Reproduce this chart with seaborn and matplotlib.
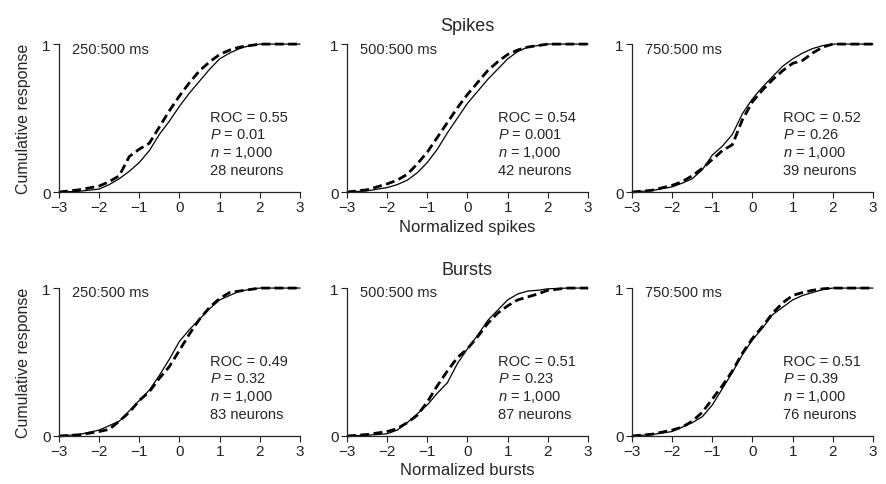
import numpy as np
import pandas as pd
import seaborn as sns
import matplotlib.pyplot as plt

sns.set_style('ticks')
plt.rcParams['font.family'] = ['Liberation Sans', 'DejaVu Sans']
plt.rcParams['mathtext.fontset'] = 'custom'
plt.rcParams['mathtext.rm'] = 'Liberation Sans'
plt.rcParams['mathtext.it'] = 'Liberation Sans:italic'

# common x grid (normalized response)
x_grid = [-3, -2.5, -2, -1.75, -1.5, -1.25, -1, -0.75, -0.5, -0.25, 0,
          0.25, 0.5, 0.75, 1, 1.25, 1.5, 1.75, 2, 2.5, 3]

# spikes
spk250_solid = [0, 0.005, 0.02, 0.05, 0.09, 0.14, 0.20, 0.28, 0.39, 0.48, 0.58,
                0.67, 0.75, 0.83, 0.90, 0.94, 0.97, 0.99, 1.0, 1.0, 1.0]
spk250_dash = [0, 0.015, 0.04, 0.07, 0.11, 0.24, 0.29, 0.33, 0.44, 0.55, 0.65,
               0.74, 0.82, 0.88, 0.93, 0.96, 0.98, 0.99, 1.0, 1.0, 1.0]
spk500_solid = [0, 0.008, 0.03, 0.05, 0.08, 0.13, 0.20, 0.29, 0.40, 0.50, 0.60,
                0.68, 0.76, 0.83, 0.90, 0.95, 0.98, 0.99, 1.0, 1.0, 1.0]
spk500_dash = [0, 0.015, 0.055, 0.08, 0.12, 0.19, 0.27, 0.37, 0.47, 0.57, 0.66,
               0.74, 0.82, 0.88, 0.93, 0.96, 0.98, 0.99, 1.0, 1.0, 1.0]
spk750_solid = [0, 0.01, 0.035, 0.06, 0.09, 0.15, 0.25, 0.31, 0.39, 0.53, 0.63,
                0.71, 0.78, 0.85, 0.90, 0.94, 0.97, 0.99, 1.0, 1.0, 1.0]
spk750_dash = [0, 0.012, 0.045, 0.07, 0.11, 0.16, 0.22, 0.28, 0.32, 0.49, 0.61,
               0.69, 0.76, 0.82, 0.87, 0.89, 0.94, 0.98, 1.0, 1.0, 1.0]

# bursts
bst250_solid = [0, 0.01, 0.04, 0.07, 0.10, 0.17, 0.24, 0.31, 0.41, 0.52, 0.64,
                0.72, 0.79, 0.86, 0.92, 0.95, 0.98, 0.99, 1.0, 1.0, 1.0]
bst250_dash = [0, 0.008, 0.03, 0.045, 0.10, 0.16, 0.24, 0.30, 0.39, 0.47, 0.58,
               0.69, 0.79, 0.87, 0.93, 0.97, 0.98, 0.99, 1.0, 1.0, 1.0]
bst500_solid = [0, 0.005, 0.015, 0.04, 0.09, 0.15, 0.21, 0.29, 0.36, 0.49, 0.59,
                0.68, 0.78, 0.85, 0.92, 0.96, 0.98, 0.985, 0.995, 1.0, 1.0]
bst500_dash = [0, 0.01, 0.03, 0.05, 0.09, 0.14, 0.23, 0.34, 0.44, 0.53, 0.59,
               0.67, 0.76, 0.83, 0.88, 0.92, 0.94, 0.96, 0.985, 1.0, 1.0]
bst750_solid = [0, 0.01, 0.03, 0.06, 0.09, 0.13, 0.21, 0.32, 0.43, 0.55, 0.65,
                0.73, 0.82, 0.87, 0.92, 0.95, 0.97, 0.99, 1.0, 1.0, 1.0]
bst750_dash = [0, 0.012, 0.04, 0.06, 0.10, 0.16, 0.25, 0.34, 0.44, 0.56, 0.66,
               0.74, 0.83, 0.90, 0.95, 0.97, 0.985, 0.995, 1.0, 1.0, 1.0]

windows = ['250:500 ms', '500:500 ms', '750:500 ms']
spk_stats = [('0.55', '0.01', '28'), ('0.54', '0.001', '42'), ('0.52', '0.26', '39')]
bst_stats = [('0.49', '0.32', '83'), ('0.51', '0.23', '87'), ('0.51', '0.39', '76')]

rows = [
    ('Spikes', 'Normalized spikes',
     [(spk250_solid, spk250_dash), (spk500_solid, spk500_dash), (spk750_solid, spk750_dash)],
     spk_stats),
    ('Bursts', 'Normalized bursts',
     [(bst250_solid, bst250_dash), (bst500_solid, bst500_dash), (bst750_solid, bst750_dash)],
     bst_stats),
]

fig = plt.figure(figsize=(8.87, 4.85), dpi=100)
lefts = [0.0665, 0.3912, 0.7125]
bottoms = [0.602, 0.099]
w, h = 0.2717, 0.305

for r, (title, xlabel, curves, stats) in enumerate(rows):
    for c in range(3):
        ax = fig.add_axes([lefts[c], bottoms[r], w, h])
        solid, dash = curves[c]
        sns.lineplot(x=x_grid, y=solid, ax=ax, color='black', lw=0.9)
        sns.lineplot(x=x_grid, y=dash, ax=ax, color='black', lw=2.0,
                     linestyle=(0, (3.2, 1.6)))
        for ln in ax.lines:
            ln.set_clip_on(False)
        ax.set_xlim(-3, 3)
        ax.set_ylim(0, 1)
        ax.set_xticks([-3, -2, -1, 0, 1, 2, 3])
        ax.set_yticks([0, 1])
        ax.set_yticklabels(['0', '1'])
        ax.tick_params(labelsize=11, length=4, width=0.8, pad=2, colors='#222222')
        for s in ['top', 'right']:
            ax.spines[s].set_visible(False)
        for s in ['left', 'bottom']:
            ax.spines[s].set_linewidth(0.9)
        ax.set_xlabel('')
        ax.set_ylabel('')
        if c == 0:
            ax.set_ylabel('Cumulative response', fontsize=11.5, labelpad=8)
        if c == 1:
            ax.set_xlabel(xlabel, fontsize=12, labelpad=3)
            ax.set_title(title, fontsize=13, pad=10)
        ax.text(-2.68, 0.97, windows[c], fontsize=10.5, va='center', ha='left')
        roc, p, n = stats[c]
        txt = [f'ROC = {roc}', f'$P$ = {p}', f'$n$ = 1,000', f'{n} neurons']
        for i, t in enumerate(txt):
            ax.text(0.75, 0.51 - i * 0.12, t, fontsize=10.5, va='center', ha='left')

fig.savefig('out.png', dpi=100)
